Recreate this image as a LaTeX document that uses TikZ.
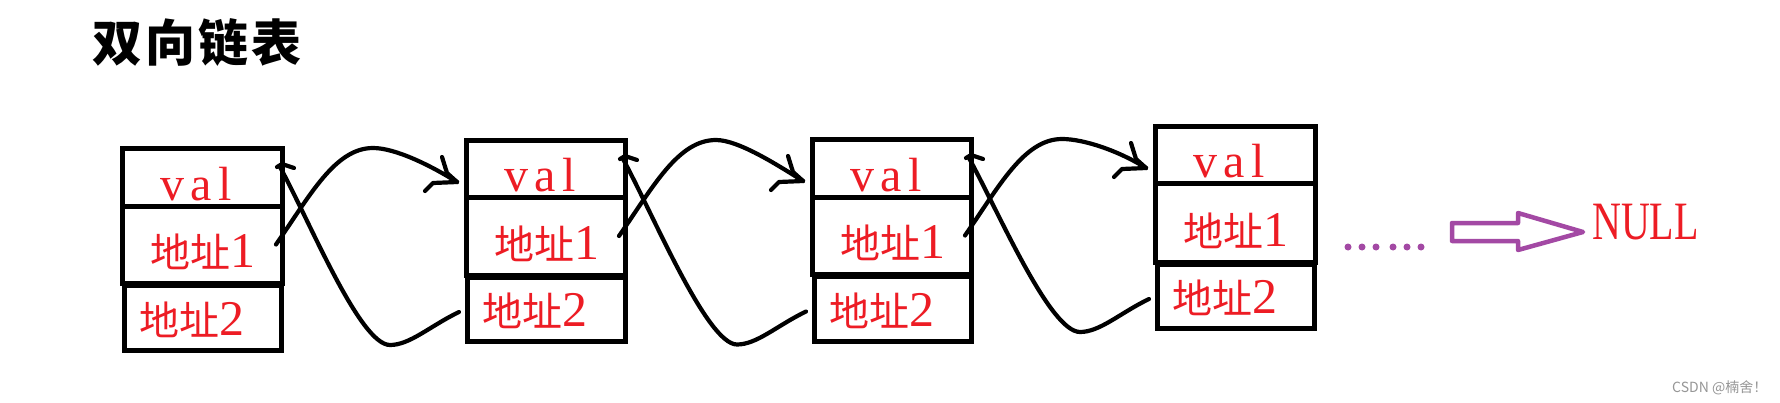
\documentclass[tikz,border=0pt]{standalone}
\usepackage{fontspec}
\setmainfont{Liberation Serif}
\newfontfamily\cjk{Noto Sans CJK SC}
\newfontfamily\spaced{Liberation Serif}[LetterSpace=14]
\usetikzlibrary{calc}
\definecolor{pred}{RGB}{237,28,36}
\definecolor{ppurple}{RGB}{163,73,164}
\definecolor{wmgray}{RGB}{150,150,150}
\newcommand\myaddr[1]{{\cjk\fontsize{40}{44}\selectfont 地址}{\fontsize{50}{54}\selectfont #1}}
\begin{document}
\begin{tikzpicture}[x=1pt,y=-1pt,
  cell/.style={draw=black,line width=5pt,rectangle,inner sep=0pt,outer sep=0pt,anchor=north west},
  lbl/.style={text=pred,inner sep=0pt,anchor=base west},
  link/.style={line width=4.2pt,line cap=round,line join=round}]
\fill[white] (0,0) rectangle (1780,402);
\useasboundingbox (0,0) rectangle (1780,402);

\node[anchor=west,inner sep=0pt] (title) at (92,42) {\cjk\bfseries\addfontfeatures{LetterSpace=6}\fontsize{50}{52}\selectfont 双向链表};

\foreach \n/\x/\w/\t/\hv/\ha/\hb/\lx/\lw in {
  1/122/160/148/58/77/67/124/157,
  2/466/159/140/57/78/66/467/158,
  3/812/159/139/58/77/67/814/157,
  4/1155/160/126/57/79/66/1157/157}{
  \node[cell,minimum width=\w,minimum height=\hv] (v\n) at (\x,\t) {};
  \node[cell,minimum width=\w,minimum height=\ha] (a\n) at (v\n.south west) {};
  \node[cell,minimum width=\lw,minimum height=\hb-2] (b\n) at ($(a\n.south west)+(\lx-\x,2)$) {};
  \node[lbl] (tv\n) at ($(v\n.south west)+(38,-6)$) {\spaced\fontsize{48}{50}\selectfont val};
  \node[lbl] (ta\n) at ($(a\n.south west)+(28,-16)$) {\myaddr{1}};
  \node[lbl] (tb\n) at ($(b\n.south west)+(15,-15)$) {\myaddr{2}};
}

\foreach \i/\j in {1/2,2/3,3/4}{
  \coordinate (S\i) at ($(a\i.east)+(-6,0)$);
  \coordinate (P\i) at ($(v\i.north east)+(91,0)$);
  \coordinate (T\i) at ($(v\j.north west)+(-9,42)$);
  \draw[link] (S\i) .. controls ($(S\i)+(34,-49)$) and ($(P\i)+(-38,0)$) .. (P\i)
     .. controls ($(P\i)+(22,0)$) and ($(T\i)+(-27,-17)$) .. (T\i);
  \draw[link] (T\i) -- ++(-10,-9) -- ++(-5,-16);
  \draw[link] (T\i) -- ++(-24,1) -- ++(-8,8);
  \coordinate (B\i) at ($(b\j.west)+(-8,3)$);
  \coordinate (M\i) at ($(B\i)+(-69,33)$);
  \coordinate (E\i) at ($(v\i.north east)+(-2,19)$);
  \draw[link] (B\i) .. controls ($(B\i)+(-29,14)$) and ($(M\i)+(20,0)$) .. (M\i)
     .. controls ($(M\i)+(-30,0)$) and ($(E\i)+(30,55)$) .. (E\i);
  \draw[link] ($(E\i)+(-3,0)$) -- ($(E\i)+(2,-3)$) -- ($(E\i)+(14,1)$);
}

\foreach \dx in {1348,1362,1376,1393,1407,1421}
  \fill[ppurple] (\dx,247) circle (3.5);

\draw[ppurple,line width=4.5pt,line join=round]
  (1452,223) -- (1518,223) -- (1518,213) -- (1583,232) -- (1518,250) -- (1518,241) -- (1452,241) -- cycle;

\node[anchor=base west,inner sep=0pt,text=pred,xscale=0.74] (null) at (1592,239) {\fontsize{54}{56}\selectfont NULL};

\node[anchor=base west,inner sep=0pt,text=wmgray] (wm) at (1672,392) {\cjk\fontsize{14}{16}\selectfont CSDN @楠舍！};
\end{tikzpicture}
\end{document}
